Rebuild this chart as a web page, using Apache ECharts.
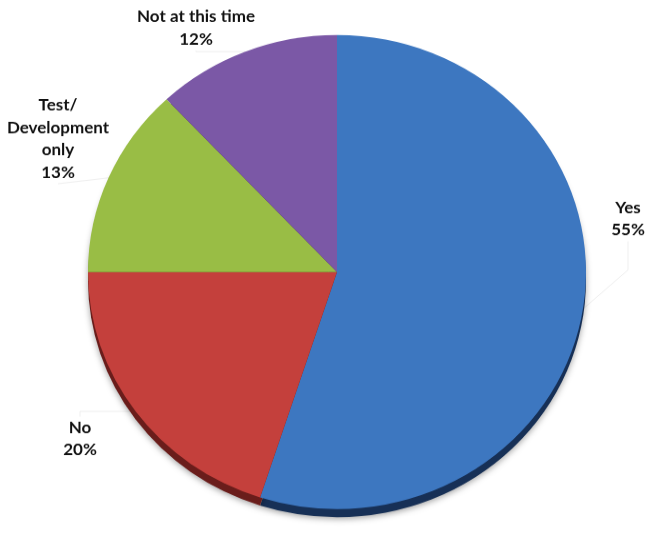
<!DOCTYPE html>
<html>
<head>
<meta charset="utf-8">
<script src="https://cdn.jsdelivr.net/npm/echarts@6/dist/echarts.min.js"></script>
<style>
  html, body { margin: 0; padding: 0; background: #ffffff; overflow: hidden; }
  #wrap { width: 665px; height: 534px; overflow: hidden; }
  /* the disc is viewed slightly from above, so squash the drawing a little vertically */
  #chart { width: 665px; height: 561px; transform: scaleY(0.952); transform-origin: 0 0; }
</style>
</head>
<body>
<div id="wrap"><div id="chart"></div></div>
<script>
// Survey answers, clockwise from 12 o'clock
const categories = ['Yes', 'No', 'Test/\nDevelopment\nonly', 'Not at this time'];
const shares = [55, 20, 13, 12];

// Face colours and the darker tones used for the rim underneath
const faceColors = ['#3d77c0', '#c4403c', '#99bd45', '#7b58a6'];
const rimColors = ['#173056', '#6a1d1b', '#4c5f22', '#3d2b53'];

const squash = 0.952;

// Where each label block sits on screen (centre of the text block)
const labelSpots = [
  { x: 628, y: 219 },
  { x: 80, y: 439 },
  { x: 58, y: 139 },
  { x: 196, y: 28 }
];

const center = [337, 272 / squash];
const radius = 249;

const faceData = categories.map((name, i) => ({
  name: name,
  value: shares[i],
  itemStyle: { color: faceColors[i] }
}));
const rimData = categories.map((name, i) => ({
  name: name,
  value: shares[i],
  itemStyle: { color: rimColors[i] }
}));

const chart = echarts.init(document.getElementById('chart'), null, { renderer: 'canvas' });
chart.setOption({
  animation: false,
  backgroundColor: '#ffffff',
  series: [
    {
      // rim: same pie shifted down to give the disc some depth
      type: 'pie',
      silent: true,
      center: [center[0], center[1] + 8.5],
      radius: radius,
      startAngle: 90,
      clockwise: true,
      data: rimData,
      label: { show: false },
      labelLine: { show: false },
      itemStyle: {
        borderWidth: 0,
        shadowBlur: 6,
        shadowColor: 'rgba(0,0,0,0.35)',
        shadowOffsetY: 2
      }
    },
    {
      type: 'pie',
      center: center,
      radius: radius,
      startAngle: 90,
      clockwise: true,
      data: faceData,
      itemStyle: { borderWidth: 0 },
      label: {
        show: true,
        formatter: function (p) { return p.name + '\n' + p.value + '%'; },
        fontFamily: 'Lato, "Open Sans", sans-serif',
        fontWeight: 'bold',
        fontSize: 17,
        lineHeight: 23.5,
        color: '#111111',
        align: 'center',
        overflow: 'none',
        width: 200
      },
      labelLine: {
        show: true,
        lineStyle: { color: '#efefef', width: 1 }
      },
      labelLayout: function (params) {
        const spot = labelSpots[params.dataIndex];
        return {
          x: spot.x,
          y: spot.y / squash,
          align: 'center',
          verticalAlign: 'middle'
        };
      }
    }
  ]
});
</script>
</body>
</html>
